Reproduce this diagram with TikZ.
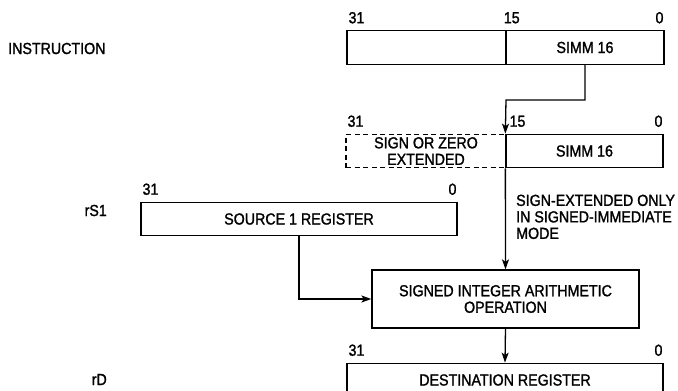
\documentclass[tikz,border=0pt]{standalone}
\usepackage{fontspec}
\setmainfont{Liberation Sans}[FakeStretch=0.89, FakeBold=1.4]
\usetikzlibrary{arrows.meta,positioning}
\tikzset{
  field/.style={
    draw=black,
    line width=1.3pt,
    inner sep=0pt,
    minimum height=33.5pt,
    align=center
  },
  extfield/.style={field, dash pattern=on 5pt off 3.5pt},
  opbox/.style={field, minimum height=58pt},
  bit/.style={inner sep=0pt},
  tag/.style={inner sep=0pt},
  note/.style={inner sep=0pt, align=left},
  wire/.style={line width=1.3pt},
  flow/.style={wire, -{Stealth[length=10pt, width=7pt, inset=2.5pt]}}
}
\newcommand{\bitrange}[3]{
  \node[bit, above right=6.5pt and 2pt of #1.north west] (#3msb) {31};
  \node[bit, above left=6.5pt and 1pt of #2.north east] (#3lsb) {0};
}

\begin{document}
\begin{tikzpicture}[x=1pt, y=-1pt, font={\fontsize{16}{16.5}\selectfont}]
  \useasboundingbox (0,0) rectangle (678,391);
  \clip (0,0) rectangle (678,391);

  % -------------------------------------------------------------------
  % instruction word
  % -------------------------------------------------------------------
  \node[tag, anchor=base west] (insttag) at (8,54) {INSTRUCTION};
  \node[field, minimum width=159pt] (insthi) at (426.5,47.5) {};
  \node[field, minimum width=158pt] (instlo) at (585,47.5) {SIMM 16};
  \bitrange{insthi}{instlo}{inst}
  \node[bit, above right=6.5pt and -3pt of insthi.north east] (inst15) {15};

  % -------------------------------------------------------------------
  % extended immediate
  % -------------------------------------------------------------------
  \node[extfield, minimum width=160pt] (ext) at (426,151) {SIGN OR ZERO\\EXTENDED};
  \node[field, minimum width=157pt] (simm) at (584.5,151) {SIMM 16};
  \bitrange{ext}{simm}{imm}
  \node[bit, above right=6.5pt and 4pt of simm.north west] (imm15) {15};
  \node[note, anchor=north west] (signnote) at (516,194.5)
    {SIGN-EXTENDED ONLY\\IN SIGNED-IMMEDIATE\\MODE};

  % -------------------------------------------------------------------
  % source, operation, destination
  % -------------------------------------------------------------------
  \node[tag, anchor=base east] (srctag) at (107,216) {rS1};
  \node[field, minimum width=316pt] (src) at (299,219) {SOURCE 1 REGISTER};
  \bitrange{src}{src}{src}

  \node[opbox, minimum width=267pt] (alu) at (505.5,299) {SIGNED INTEGER ARITHMETIC\\OPERATION};

  \node[tag, anchor=base east] (dsttag) at (107,385) {rD};
  \node[field, minimum width=316pt] (dst) at (505,380) {DESTINATION REGISTER};
  \bitrange{dst}{dst}{dst}

  % connections
  \coordinate (jog) at (506,100);
  \draw[flow] (instlo.south) |- (jog) -- (simm.north west);
  \draw[flow] (simm.south west) -- (alu.north);
  \draw[flow] (src.south) |- (alu.west);
  \draw[flow] (alu.south) -- (dst.north);

\end{tikzpicture}
\end{document}
